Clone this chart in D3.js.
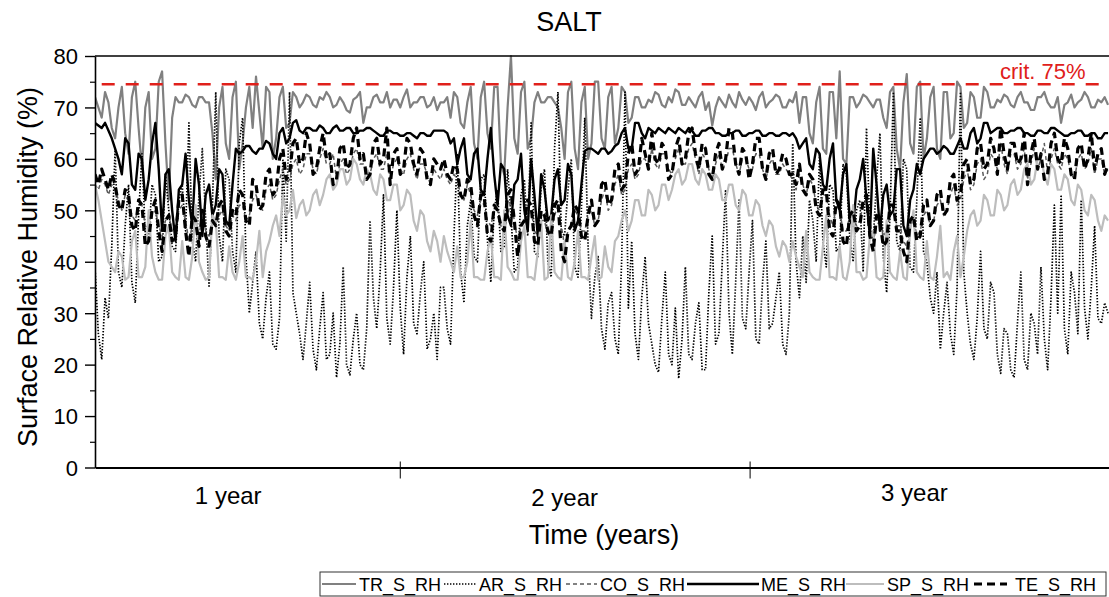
<!DOCTYPE html>
<html><head><meta charset="utf-8">
<script src="https://cdn.jsdelivr.net/npm/d3@7"></script>
<style>
body{margin:0;background:#fff}
svg{display:block}
text{font-family:"Liberation Sans",Arial,sans-serif;fill:#000}
</style>
</head><body>
<svg id="chart" width="1109" height="597"></svg>
<script>
// ---------- data (half-weekly readings, % RH) ----------
const stepDays = 3.5;
const seriesNames = ["TR_S_RH","AR_S_RH","CO_S_RH","ME_S_RH","SP_S_RH","TE_S_RH"];

const TR = [
72,70,68,73,71,66,64,70,74,65,61,72,75,66,58,70,73,60,62,75,77,63,52,68,72,71,71,72.5,72,70.5,70,72,72,71,71,65,56,70,74,63,60,72,75,58,63,70,74,66,76,69,62,74,73,60,64,72,74,66,67,73,72,70,
71,72.5,72,70.5,70,72,71.5,73,72,70,70.5,72,71,69.5,69,71.5,72,73,67,70,70,72,72.5,71,71,73,70,71.5,71.5,70,72,73.5,70,71,71,72,72,70,70.5,72,69.5,71,
71,72,68,73,72,67,66,71,74,63,60,72,75,65,62,74,74,59,57,70,80,64,61,73,75,62,64,71,73,71,71,72,72,71,70,66,60,73,75,62,58,71,74,60,63,75,75,64,62,72,74,63,66,74,73,67,68,72,72,70,70,71.5,
71,73,72.5,70.5,70,72,71,73.5,73,70.5,70.5,72,71,70,72,73,69.5,71,66.5,70,72,71,70,72.5,71,70,73,71.5,70.5,72,71,69.5,72,73,70,71,71.5,72.5,72,70,70,71.5,
71,73,67,72,72,65,63,71,74,62,61,73,73,64,77,60,59,72,72,70,71,72.5,72,71,70,71.5,71.5,68,66,73,74,62,58,71,76.5,63,61,74,75,60,64,72,74,62,60,73,73,64,65,75,74,66,67,73,72,68,68,74,73,70,70,71.5,
71,72.5,72,70.5,70,72,73,71,71,69.5,69.5,72,72,73,71,70,70,72,67,70.5,71,72.5,70,71,71.5,73,72,70,70,71.5,71,72,70.5];

const AR = [
39,26,21,33,29,43,62,38,35,47,55,36,32,49,61,45,44,55,53,40,41,57,50,43,42,52,55,46,67,44,40,53,62,48,35,51,73,45,40,58,56,42,38,63,68,41,30,36,42,28,25,33,38,24,23,29,60,44,73,34,
30,26,21,28,36,23,19,27,34,21,22,30,17.5,24,39,20,18,25,30,20,19,27,48,33,27,38,53,29,24,35,50,31,22,37,45,28,26,34,40,23,25,30,21,35,
35,27,24,45,61,38,32,47,52,41,40,56,57,44,36,50,54,42,43,58,49,38,39,53,56,45,67,42,41,55,58,40,37,62,73,46,45,54,60,39,37,50,68,43,29,37,41,27,23,32,34,25,22,40,73,31,44,26,21,33,
41,28,24,20,18.5,29,38,22,20,31,17.3,25,39,22,21,28,32,19,19,34,45,24,26,40,54,30,22,36,52,29,27,38,48,25,24,36,44,27,28,33,38,24,22,30,
63,40,33,45,36,52,48,40,61,44,39,55,54,42,43,59,57,45,40,50,52,38,66,47,44,56,65,41,34,49,73,44,42,60,58,39,38,52,68,42,40,33,30,38,23,30,36,26,22,35,73,38,30,24,21,29,42,27,25,36,
34,22,18.3,27,26,19,17.5,28,38,21,19,30,28,22,39,25,19,33,51,30,53,27,22,38,34,26,52,31,25,35,47,29,28,32,30];

const CO = [
55,54,56,55,53,55,54,52,50,53,52,49,48,51,51,47,46,49,50,47,45,48,49,46,47,50,51,48,44,47,48,45,49,46,45,48,47,49,50,47,46,49,48,51,51,48,49,52,53,51,50,54,55,52,53,56,58,55,56,59,
60,57,58,61,61,58,57,60,62,59,59,61,56,59,60,57,58,61,62,59,59,57,57,60,61,58,58,61,56,59,60,58,57,60,61,58,56,59,59,57,55,58,57,56,
58,56,55,57,56,53,52,55,53,50,49,52,51,48,47,50,50,47,46,49,52,48,44,47,48,51,50,46,45,48,48,45,46,49,51,47,43,46,47,50,49,46,46,49,50,47,48,52,54,50,51,55,57,53,54,58,59,56,57,60,
60,58,62,59,58,61,61,58,57,60,62,59,59,62,63,60,57,61,60,58,56,59,61,58,59,62,62,59,57,60,60,58,58,61,61,58,56,59,60,57,57,59,58,57,
56,54,57,55,53,56,55,51,50,53,53,49,47,51,50,46,46,49,49,47,48,51,52,48,44,47,48,45,46,49,50,47,47,44,43,47,48,45,46,49,50,47,48,51,52,49,50,53,55,51,52,56,58,54,55,59,60,56,57,61,
60,58,63,59,57,61,61,58,59,62,56,59,62,58,60,63,57,60,62,59,58,61,60,57,56,60,61,58,59,62,57,60,60,57,58];

const ME = [
67,66.5,66,67,65.5,64,62,60,57,64,63,55,54,61,60,52,56,63,67,58,46,57,58,50,44,54,55,61,52,47,60,55,45,53,55,49,51,58,57,48,47,55,62,61,61.5,62.5,62.5,61.5,61,62,62,63.5,63,61,60,65,66,63,64,67,67.5,65.5,65,66,
66,65.5,65.5,66.5,66,65,65,66,66.5,65.5,65.5,66,66,65,65,65.5,65.5,66,66,65.5,65,64.5,64.5,65.5,65.5,65,65,64.5,64.5,65,65,64.5,64,65,65,64.5,64.5,65.5,65.5,65.5,
65.5,65,63,64,59,62,64,57,56,61,62,54,53,60,66,57,51,59,58,49,47,55,56,61,50,46,60,53,45,57,54,48,49,56,58,51,52,59,57,46,48,55,61.5,62,62,61.5,61,62,62,61,61.5,62.5,63,65,66,62,62,67,67,65,64,66,
65.5,65,66,65.5,65,66,65.5,65,66,65.5,65,66,65.5,64.5,64.5,65.5,65.5,66,66,65,65,64.5,64.5,65,65,65.5,65.5,64.5,64.5,65,65,65.5,65.5,64.5,64.5,65,65,64.5,64.5,65,65,64.5,
65,64,62,63,64,59,58,62,61,55,54,60,63,52,50,57,59,48,47,54,56,60,52,45,62,55,46,53,55,49,50,58,58,47,45,52,54,59,57,60,61,62,62,61,61.5,62.5,62,61,61,62.5,64,62,62,65,66,63,64,67,67,65,65.5,66,
66,65,65,65.5,65.5,66,66,65,65,64.5,64.5,65.5,65.5,65,65,66,66,65.5,65,64.5,64.5,65,65,65.5,65.5,64.5,64.5,65,65,64,64,65,65];

const SP = [
55,52,48,44,40,39,38,42,41,36.5,37,44,46,37,37,39,50,41,38,36.5,36.5,45,47,38,37,36.5,44,37,36.5,41,51,40,38,36.5,37,49,48,37,37,36.5,43,38,36.5,40,45,37,37,36.5,40,46,37,42,44,47,49,45,53,49,50,54,
48.5,51,52,49,50,53,54,51,53,56,57,54,55,58,58,55,56,60,59,56,55,58,57,54,53,57,56,52,52,55,55,50,51,54,53,48,46,50,49,44,42,46,44,40,
45,42,40,38,43,37,37,40,48,37,37,36.5,36.5,42,45,37,37,36.5,50,39,38,36.5,36.5,44,47,37,37,36.5,42,48,36.5,37,49,38,37,36.5,44,37,36.5,40,46,37,37,36.5,41,45,36.5,37,43,39,38,44,45,48,50,46,48,52,52,49,
49,54,53,50,51,55,55,52,54,57,58,55,56,59,59,56,55,58,57,54,54,57,56,52,52,55,55,51,50,54,53,49,49,52,51,47,45,48,47,43,41,44,43,40,
44,41,39,37,46,38,37,36.5,36.5,43,49,37,37,36.5,43,37,36.5,40,51,38,38,36.5,37,45,46,37,36.5,37,48,38,37,36.5,42,37,36.5,46,50,38,37,36.5,44,37,36.5,41,47,37,38,36.5,42,45,37,41,46,49,50,47,48,53,52,49,
49,54,53,50,51,55,56,53,54,58,59,55,56,60,60,57,55,59,58,54,54,57,56,52,51,55,54,50,49,53,52,48,46,49,48];

const TE = [
57,55,58,56,54,57,55,51,50,54,53,47,46,52,51,43,44,50,52,46,42,48,49,44,45,52,53,46,41,49,48,43,50,45,43,48,47,51,52,46,45,50,49,54,53,48,47,56,55,50,51,57,58,53,54,60,62,56,57,63,
64,59,60,65,63,57,58,62,65,60,61,55,56,62,63,58,59,64,66,60,61,56,57,63,64,59,60,66,55,61,62,57,58,64,63,59,57,62,61,56,55,60,59,58,
60,57,56,59,58,53,52,56,55,49,47,53,53,45,44,51,50,47,46,53,54,48,41,47,48,52,51,44,43,50,49,46,45,51,52,42,40,46,47,51,50,45,44,49,52,47,48,55,56,51,52,58,59,54,55,61,63,57,58,64,
61,58,65,60,59,63,62,56,57,62,64,59,60,65,66,61,58,63,62,57,56,61,63,58,60,66,65,59,57,62,61,56,59,64,64,58,56,61,62,57,58,61,60,57,
57,55,59,54,53,57,56,50,49,54,54,46,45,52,51,44,43,49,50,46,47,52,53,45,42,49,48,43,44,51,51,46,46,42,40,48,49,44,45,51,52,47,48,53,54,49,50,56,57,52,53,59,60,55,56,62,63,58,59,64,
62,57,66,61,58,63,63,59,60,65,55,61,64,58,61,56,57,63,65,60,59,64,62,57,56,62,63,58,60,65,58,61,62,57,59];

const yTickValues = [0,10,20,30,40,50,60,70,80];
const yMinorValues = [5,15,25,35,45,55,65,75];
const xTickDays = [318, 683];
const xLabels = ["1 year","2 year","3 year"];
const xLabelDays = [139, 490, 855];
const critValue = 74.5;
const critLabel = "crit. 75%";

// ---------- styles ----------
const styles = {
  TR_S_RH:{color:"#808080", width:2.2, dash:null},
  AR_S_RH:{color:"#000000", width:1.7, dash:"1.4,1.6"},
  CO_S_RH:{color:"#5a5a5a", width:1.5, dash:"4,3"},
  ME_S_RH:{color:"#000000", width:2.4, dash:null},
  SP_S_RH:{color:"#bdbdbd", width:2.2, dash:null},
  TE_S_RH:{color:"#000000", width:3.2, dash:"8,5"}
};
const dataMap = {TR_S_RH:TR, AR_S_RH:AR, CO_S_RH:CO, ME_S_RH:ME, SP_S_RH:SP, TE_S_RH:TE};

const svg = d3.select("#chart");
const L = 95, R = 1109, T = 56, B = 467.5;
const x = d3.scaleLinear().domain([0,1058]).range([L,R]);
const y = d3.scaleLinear().domain([0,80]).range([B,T]);

svg.append("defs").append("clipPath").attr("id","clip")
  .append("rect").attr("x",L).attr("y",T-2).attr("width",R-L).attr("height",B-T+2);

// series
const line = d3.line().x((d,i)=>x(i*stepDays)).y(d=>y(d));
const gS = svg.append("g").attr("clip-path","url(#clip)");
seriesNames.forEach(n=>{
  const s = styles[n];
  gS.append("path").datum(dataMap[n]).attr("d",line)
    .attr("fill","none").attr("stroke",s.color).attr("stroke-width",s.width)
    .attr("stroke-dasharray",s.dash).attr("stroke-linejoin","round");
});

// crit line
svg.append("line").attr("x1",x(7)).attr("x2",R).attr("y1",y(critValue)).attr("y2",y(critValue))
  .attr("stroke","#e0201b").attr("stroke-width",2.6).attr("stroke-dasharray","13,11");
svg.append("text").attr("x",1000).attr("y",79).attr("font-size",22).style("fill","#e0201b").text(critLabel);

// frame
svg.append("line").attr("x1",L).attr("x2",R).attr("y1",T).attr("y2",T).attr("stroke","#000").attr("stroke-width",1.5);

// y axis
const ya = svg.append("g").attr("transform",`translate(${L},0)`)
  .call(d3.axisLeft(y).tickValues(yTickValues).tickSize(10).tickSizeOuter(0).tickPadding(7));
ya.select(".domain").attr("stroke-width",1.6);
ya.selectAll(".tick line").attr("stroke-width",1.4);
ya.selectAll(".tick text").attr("font-size",22).attr("font-family",'"Liberation Sans",Arial,sans-serif').attr("dy","0.36em");
const ym = svg.append("g").attr("transform",`translate(${L},0)`)
  .call(d3.axisLeft(y).tickValues(yMinorValues).tickSize(5).tickSizeOuter(0).tickFormat(""));
ym.select(".domain").remove();
ym.selectAll(".tick line").attr("stroke-width",1.2);

// x axis
const xa = svg.append("g").attr("transform",`translate(0,${B})`)
  .call(d3.axisBottom(x).tickValues(xTickDays).tickSize(11).tickSizeOuter(0).tickFormat(""));
xa.select(".domain").attr("stroke-width",2.2);
xa.selectAll(".tick line").attr("y1",-6).attr("stroke-width",1);

const labelY = [504, 506, 501];
xLabels.forEach((t,i)=>{
  svg.append("text").attr("x",x(xLabelDays[i])).attr("y",labelY[i]).attr("text-anchor","middle")
    .attr("font-size",24).text(t);
});

// titles
svg.append("text").attr("x",569).attr("y",31).attr("text-anchor","middle").attr("font-size",27).text("SALT");
svg.append("text").attr("x",604).attr("y",544).attr("text-anchor","middle").attr("font-size",27).text("Time (years)");
svg.append("text").attr("transform",`translate(37,267) rotate(-90)`).attr("text-anchor","middle")
  .attr("font-size",27).text("Surface Relative Humidity (%)");

// legend
const lg = svg.append("g");
lg.append("rect").attr("x",320).attr("y",572).attr("width",786).attr("height",24)
  .attr("fill","#fff").attr("stroke","#333").attr("stroke-width",1);
const legendLayout = [
  {n:"TR_S_RH", x1:322, x2:356, tx:359},
  {n:"AR_S_RH", x1:444, x2:477, tx:479},
  {n:"CO_S_RH", x1:566, x2:597, tx:600},
  {n:"ME_S_RH", x1:687, x2:759, tx:761},
  {n:"SP_S_RH", x1:846, x2:884, tx:887},
  {n:"TE_S_RH", x1:974, x2:1007, tx:1015}
];
legendLayout.forEach(o=>{
  const s = styles[o.n];
  lg.append("line").attr("x1",o.x1).attr("x2",o.x2).attr("y1",584).attr("y2",584)
    .attr("stroke",s.color).attr("stroke-width",s.width).attr("stroke-dasharray",s.dash);
  lg.append("text").attr("x",o.tx).attr("y",591).attr("font-size",18).text(o.n);
});
</script>
</body></html>
